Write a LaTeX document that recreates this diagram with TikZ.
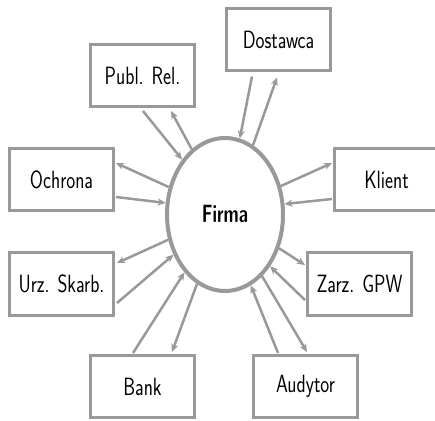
\documentclass[tikz,border=0pt]{standalone}
\usepackage{graphicx}
\usetikzlibrary{shapes.geometric,arrows.meta}
\definecolor{lg}{RGB}{153,153,155}
\newcommand\lbl[1]{\scalebox{0.76}[1]{#1}}
\tikzset{
  box/.style={draw=lg,line width=3pt,fill=white,minimum width=104pt,minimum height=62pt,inner sep=0pt,
    font=\fontsize{25}{30}\selectfont\sffamily},
  firm/.style={ellipse,draw=lg,line width=4pt,fill=white,minimum width=116pt,minimum height=153pt,inner sep=0pt,
    font=\fontsize{25}{30}\selectfont\sffamily\bfseries},
  arr/.style={draw=lg,line width=2.5pt,-{Stealth[length=8pt,width=7pt,inset=2.5pt]}}
}
\begin{document}
\begin{tikzpicture}[x=1pt,y=1pt]
\clip (0,0) rectangle (435,420);
\fill[white] (0,0) rectangle (435,420);
\node[firm] (firma) at (225,205.5) {\scalebox{0.7}[1]{Firma}};
\node[box] (dost) at (278.5,380) {\lbl{Dostawca}};
\node[box] (publ) at (142.5,344.5) {\lbl{Publ. Rel.}};
\node[box] (ochr) at (61.5,240.5) {\lbl{Ochrona}};
\node[box] (klie) at (386.5,240.5) {\lbl{Klient}};
\node[box] (urz) at (61.5,136) {\lbl{Urz. Skarb.}};
\node[box] (zarz) at (359.5,136) {\lbl{Zarz. GPW}};
\node[box] (bank) at (142.5,33.5) {\lbl{Bank}};
\node[box] (audy) at (305.5,33.5) {\lbl{Audytor}};
% Dostawca
\draw[arr] ([xshift=-26.5pt,yshift=-4pt]dost.south) -- (firma.79.3);
\draw[arr] (firma.68.6) -- ([xshift=-1.5pt,yshift=-5pt]dost.south);
% Publ. Rel.
\draw[arr] ([xshift=0.5pt,yshift=-3pt]publ.south) -- (firma.128);
\draw[arr] (firma.117.8) -- ([xshift=28.5pt,yshift=-3pt]publ.south);
% Ochrona
\draw[arr] (firma.154.2) -- ([xshift=1pt,yshift=16.5pt]ochr.east);
\draw[arr] ([xshift=1pt,yshift=-17.5pt]ochr.east) -- (firma.169.7);
% Klient
\draw[arr] (firma.27) -- ([xshift=-1pt,yshift=16.5pt]klie.west);
\draw[arr] ([xshift=-1pt,yshift=-19.5pt]klie.west) -- (firma.10);
% Urz. Skarb.
\draw[arr] (firma.204.2) -- ([xshift=2pt,yshift=21pt]urz.east);
\draw[arr] ([xshift=2pt,yshift=-19pt]urz.east) -- (firma.218.9);
% Zarz. GPW
\draw[arr] (firma.328.2) -- ([xshift=-1pt,yshift=19pt]zarz.west);
\draw[arr] ([xshift=-1pt,yshift=-16pt]zarz.west) -- (firma.311.8);
% Bank
\draw[arr] ([xshift=-9.5pt,yshift=1pt]bank.north) -- (firma.235.7);
\draw[arr] (firma.248.9) -- ([xshift=29.5pt,yshift=2pt]bank.north);
% Audytor
\draw[arr] ([xshift=-27.5pt,yshift=1pt]audy.north) -- (firma.290.6);
\draw[arr] (firma.301.3) -- ([xshift=1.5pt,yshift=2pt]audy.north);
\end{tikzpicture}
\end{document}
